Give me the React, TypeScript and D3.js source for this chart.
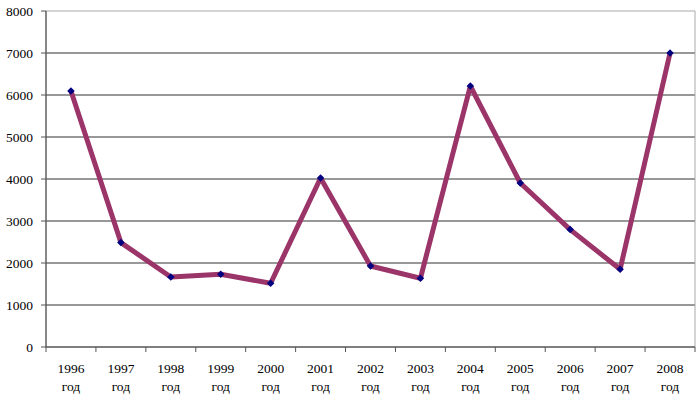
import React from 'react';
import * as d3 from 'd3';

const years = ['1996', '1997', '1998', '1999', '2000', '2001', '2002', '2003', '2004', '2005', '2006', '2007', '2008'];
const values = [6095, 2486, 1667, 1731, 1517, 4024, 1929, 1636, 6214, 3905, 2795, 1850, 7000];
const yTicks = [0, 1000, 2000, 3000, 4000, 5000, 6000, 7000, 8000];
const yearSuffix = 'год';

const W = 700, H = 394;
const margin = { top: 11, right: 5, bottom: 47, left: 46 };

export default function App() {
  const x = d3.scaleBand().domain(years).range([margin.left, W - margin.right]);
  const y = d3.scaleLinear().domain([0, 8000]).range([H - margin.bottom, margin.top]);
  const line = d3.line<number>()
    .x((_, i) => (x(years[i]) as number) + x.bandwidth() / 2)
    .y(d => y(d));
  const txt = { fontFamily: "'Liberation Serif', 'Times New Roman', Times, serif", fontSize: '13.5px' };
  const x0 = margin.left, x1 = W - margin.right, yb = y(0);
  const marker = d3.symbol(d3.symbolSquare, 28)() || '';

  return (
    <svg width={W} height={H} style={{ position: 'absolute', left: 0, top: 0, background: '#fff' }}>
      {yTicks.filter(t => t > 0).map(t => (
        <line key={t} x1={x0} x2={x1} y1={y(t)} y2={y(t)}
          stroke={t === 8000 ? '#aaa' : '#333'} strokeWidth={1.1} />
      ))}
      <line x1={x1} x2={x1} y1={y(8000)} y2={yb} stroke="#aaa" />
      <line x1={x0} x2={x0} y1={y(8000)} y2={yb} stroke="#555" strokeWidth={1.4} />
      <line x1={x0} x2={x1} y1={yb} y2={yb} stroke="#555" strokeWidth={1.4} />
      {yTicks.map(t => (
        <g key={t}>
          <line x1={x0 - 5} x2={x0} y1={y(t)} y2={y(t)} stroke="#555" />
          <text x={33} y={y(t)} dy="0.35em" textAnchor="end" style={txt} fill="#000">{t}</text>
        </g>
      ))}
      {years.map((yr, i) => {
        const bx = x(yr) as number;
        const cx = bx + x.bandwidth() / 2;
        return (
          <g key={yr}>
            <line x1={bx + x.bandwidth()} x2={bx + x.bandwidth()} y1={yb} y2={yb + 5} stroke="#555" />
            {i === 0 && <line x1={bx} x2={bx} y1={yb} y2={yb + 5} stroke="#555" />}
            <text x={cx} y={368} dy="0.35em" textAnchor="middle" style={txt}>{yr}</text>
            <text x={cx} y={386} dy="0.35em" textAnchor="middle" style={txt}>{yearSuffix}</text>
          </g>
        );
      })}
      <path d={line(values) || ''} fill="none" stroke="#9b3468" strokeWidth={5} strokeLinejoin="round" />
      {values.map((v, i) => {
        const cx = (x(years[i]) as number) + x.bandwidth() / 2;
        const cy = y(v);
        return <path key={i} d={marker} transform={`translate(${cx},${cy}) rotate(45)`} fill="#000080" />;
      })}
    </svg>
  );
}
